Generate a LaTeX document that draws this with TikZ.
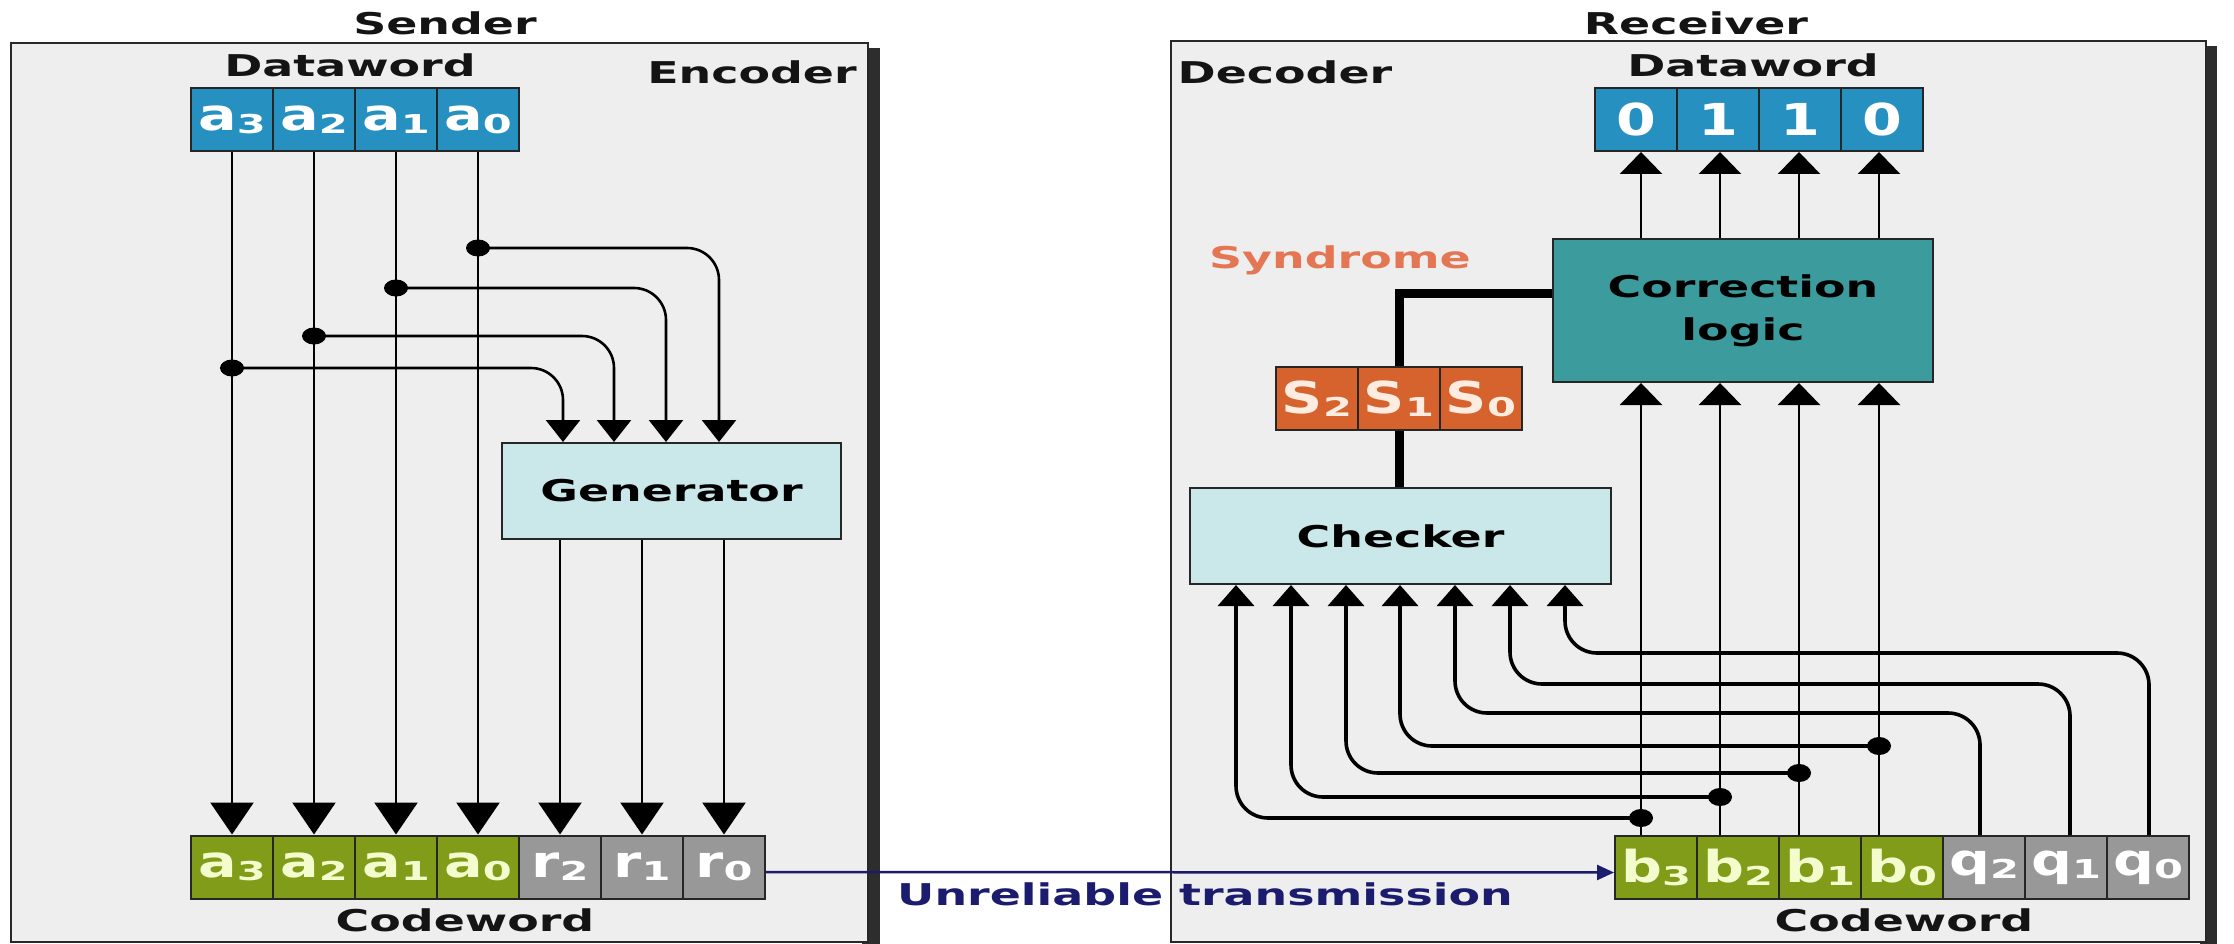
\documentclass[tikz,border=0pt]{standalone}
\usepackage{fontspec}
\usetikzlibrary{arrows.meta,calc}
\newfontfamily\labfont[FakeStretch=1.53]{DejaVu Sans}
\newfontfamily\cellfont[FakeStretch=1.3]{DejaVu Sans}
\newfontfamily\subfont[FakeStretch=1.6]{DejaVu Sans}
\definecolor{panelbg}{RGB}{238,238,238}
\definecolor{panelline}{RGB}{40,40,40}
\definecolor{shadowc}{RGB}{45,45,45}
\definecolor{dblue}{RGB}{38,145,193}
\definecolor{cgreen}{RGB}{128,156,24}
\definecolor{cgray}{RGB}{152,152,152}
\definecolor{sorange}{RGB}{214,98,46}
\definecolor{teal}{RGB}{60,155,157}
\definecolor{lcyan}{RGB}{202,231,233}
\definecolor{synd}{RGB}{228,118,84}
\definecolor{navy}{RGB}{28,28,110}
\definecolor{gtext}{RGB}{244,252,206}
\definecolor{otext}{RGB}{255,236,224}
\newcommand\cellsub[2]{#1\raisebox{-3pt}{\subfont\bfseries\fontsize{26}{26}\selectfont #2}}
\begin{document}
\begin{tikzpicture}[x=1pt,y=-1pt,
  lab/.style={font=\labfont\bfseries\fontsize{30}{43}\selectfont, inner sep=0pt, text=black!92},
  panel/.style={draw=panelline, line width=2pt, fill=panelbg, inner sep=0pt},
  cell/.style={draw=black!85, line width=2pt, minimum width=82pt, minimum height=63pt,
    inner sep=0pt, font=\cellfont\bfseries\fontsize{44}{44}\selectfont},
  bluecell/.style={cell, fill=dblue, text=white},
  greencell/.style={cell, fill=cgreen, text=gtext},
  graycell/.style={cell, fill=cgray, text=white},
  orangecell/.style={cell, fill=sorange, text=otext},
  block/.style={draw=black!85, line width=2pt, inner sep=0pt, align=center,
    font=\labfont\bfseries\fontsize{30}{43}\selectfont},
  wire/.style={draw=black, line width=2.6pt},
  cwire/.style={draw=black, line width=3.6pt},
  bus/.style={draw=black, line width=9pt, line join=miter},
  arrG/.style={-{Triangle[length=22pt,width=34pt]}},
  arrL/.style={-{Triangle[length=32pt,width=43pt]}},
  arrU/.style={-{Triangle[length=22pt,width=42pt]}},
  arrK/.style={-{Triangle[length=21pt,width=36pt]}},
  trans/.style={draw=navy, line width=2.5pt, -{Triangle[length=17pt,width=15pt]}},
  dotfill/.style={fill=black}
]
\useasboundingbox (0,0) rectangle (2234,944);
\fill[white] (0,0) rectangle (2234,944);

% ---------- panels ----------
\fill[shadowc] (862,48) rectangle (880,944);
\node[panel, minimum width=857pt, minimum height=899pt] (enc) at (439.5,492.5) {};
\fill[shadowc] (2200,46) rectangle (2217,944);
\node[panel, minimum width=1035pt, minimum height=901pt] (dec) at (1688.5,491.5) {};

% ---------- titles ----------
\node[lab] (sender) at (445,23) {Sender};
\node[lab] (receiver) at (1696,23) {Receiver};
\node[lab] (dwL) at (350,65) {Dataword};
\node[lab] (dwR) at (1753,65) {Dataword};
\node[lab] (encl) at (752,72) {Encoder};
\node[lab] (decl) at (1285,72) {Decoder};
\node[lab] (cwL) at (465,920) {Codeword};
\node[lab] (cwR) at (1904,920) {Codeword};
\node[lab, text=synd] (syn) at (1340,260) {Syndrome};
\node[lab, text=navy] (ut) at (1205,894) {Unreliable transmission};

% ---------- encoder ----------
\node[bluecell] (dA3) at (232,119.5) {\cellsub{a}{3}};
\node[bluecell] (dA2) at (314,119.5) {\cellsub{a}{2}};
\node[bluecell] (dA1) at (396,119.5) {\cellsub{a}{1}};
\node[bluecell] (dA0) at (478,119.5) {\cellsub{a}{0}};

\node[greencell] (cA3) at (232,867) {\cellsub{a}{3}};
\node[greencell] (cA2) at (314,867) {\cellsub{a}{2}};
\node[greencell] (cA1) at (396,867) {\cellsub{a}{1}};
\node[greencell] (cA0) at (478,867) {\cellsub{a}{0}};
\node[graycell] (cR2) at (560,867) {\cellsub{r}{2}};
\node[graycell] (cR1) at (642,867) {\cellsub{r}{1}};
\node[graycell] (cR0) at (724,867) {\cellsub{r}{0}};

\node[block, fill=lcyan, minimum width=339pt, minimum height=96pt] (gen) at (671.5,491) {Generator};

% generator input positions and branch points
\coordinate (gi3) at (563,0);
\coordinate (gi2) at (614,0);
\coordinate (gi1) at (666,0);
\coordinate (gi0) at (719,0);
\coordinate (j0) at (478,248);
\coordinate (j1) at (396,288);
\coordinate (j2) at (314,336);
\coordinate (j3) at (232,368);

\draw[wire, arrL] (dA3.south) -- (cA3.north);
\draw[wire, arrL] (dA2.south) -- (cA2.north);
\draw[wire, arrL] (dA1.south) -- (cA1.north);
\draw[wire, arrL] (dA0.south) -- (cA0.north);

\draw[wire, arrG, rounded corners=32pt] (j0) -- (j0 -| gi0) -- (gi0 |- gen.north);
\draw[wire, arrG, rounded corners=32pt] (j1) -- (j1 -| gi1) -- (gi1 |- gen.north);
\draw[wire, arrG, rounded corners=32pt] (j2) -- (j2 -| gi2) -- (gi2 |- gen.north);
\draw[wire, arrG, rounded corners=32pt] (j3) -- (j3 -| gi3) -- (gi3 |- gen.north);
\foreach \j in {j0,j1,j2,j3} \fill[dotfill] (\j) ellipse[x radius=12pt, y radius=8.5pt];

\draw[wire, arrL] (cR2.north |- gen.south) -- (cR2.north);
\draw[wire, arrL] (cR1.north |- gen.south) -- (cR1.north);
\draw[wire, arrL] (cR0.north |- gen.south) -- (cR0.north);

% ---------- decoder ----------
\node[bluecell] (dR3) at (1636,119.5) {0};
\node[bluecell] (dR2) at (1718,119.5) {1};
\node[bluecell] (dR1) at (1800,119.5) {1};
\node[bluecell] (dR0) at (1882,119.5) {0};

\node[greencell] (cB3) at (1656,867.5) {\cellsub{b}{3}};
\node[greencell] (cB2) at (1738,867.5) {\cellsub{b}{2}};
\node[greencell] (cB1) at (1820,867.5) {\cellsub{b}{1}};
\node[greencell] (cB0) at (1902,867.5) {\cellsub{b}{0}};
\node[graycell] (cQ2) at (1984,867.5) {\cellsub{q}{2}};
\node[graycell] (cQ1) at (2066,867.5) {\cellsub{q}{1}};
\node[graycell] (cQ0) at (2148,867.5) {\cellsub{q}{0}};

% ---------- transmission ----------
\draw[trans] ($(cR0.east)+(0,5)$) -- ($(cB3.west)+(0,5)$);

\node[block, fill=teal, minimum width=380pt, minimum height=143pt] (corr) at (1743,310.5) {Correction\\logic};
\node[block, fill=lcyan, minimum width=421pt, minimum height=96pt] (chk) at (1400.5,536) {Checker};

\node[orangecell] (S2) at (1317,398.5) {\cellsub{S}{2}};
\node[orangecell] (S1) at (1399,398.5) {\cellsub{S}{1}};
\node[orangecell] (S0) at (1481,398.5) {\cellsub{S}{0}};

% syndrome bus
\draw[bus] ($(corr.west)+(0,-17.5)$) -| (S1.north);
\draw[bus] (S1.south) -- (S1.south |- chk.north);

% data-bit lines
\coordinate (xb3) at (1641,0);
\coordinate (xb2) at (1720,0);
\coordinate (xb1) at (1799,0);
\coordinate (xb0) at (1879,0);
\coordinate (xq2) at (1980,0);
\coordinate (xq1) at (2070,0);
\coordinate (xq0) at (2149,0);

\draw[wire, arrU] (xb3 |- corr.north) -- (xb3 |- dR3.south);
\draw[wire, arrU] (xb2 |- corr.north) -- (xb2 |- dR2.south);
\draw[wire, arrU] (xb1 |- corr.north) -- (xb1 |- dR1.south);
\draw[wire, arrU] (xb0 |- corr.north) -- (xb0 |- dR0.south);

% checker inputs
\coordinate (ci0) at (1236,0);
\coordinate (ci1) at (1291,0);
\coordinate (ci2) at (1346,0);
\coordinate (ci3) at (1400,0);
\coordinate (ci4) at (1455,0);
\coordinate (ci5) at (1510,0);
\coordinate (ci6) at (1565,0);

\coordinate (k3) at (1641,818);
\coordinate (k2) at (1720,797);
\coordinate (k1) at (1799,773);
\coordinate (k0) at (1879,746);
\coordinate (hq2) at (0,713);
\coordinate (hq1) at (0,684);
\coordinate (hq0) at (0,653);

\draw[cwire, arrK, rounded corners=32pt] (k3) -- (k3 -| ci0) -- (ci0 |- chk.south);
\draw[cwire, arrK, rounded corners=32pt] (k2) -- (k2 -| ci1) -- (ci1 |- chk.south);
\draw[cwire, arrK, rounded corners=32pt] (k1) -- (k1 -| ci2) -- (ci2 |- chk.south);
\draw[cwire, arrK, rounded corners=32pt] (k0) -- (k0 -| ci3) -- (ci3 |- chk.south);
\draw[cwire, arrK, rounded corners=32pt] (xq2 |- cQ2.north) -- (xq2 |- hq2) -- (ci4 |- hq2) -- (ci4 |- chk.south);
\draw[cwire, arrK, rounded corners=32pt] (xq1 |- cQ1.north) -- (xq1 |- hq1) -- (ci5 |- hq1) -- (ci5 |- chk.south);
\draw[cwire, arrK, rounded corners=32pt] (xq0 |- cQ0.north) -- (xq0 |- hq0) -- (ci6 |- hq0) -- (ci6 |- chk.south);

\draw[wire, arrU] (xb3 |- cB3.north) -- (xb3 |- corr.south);
\draw[wire, arrU] (xb2 |- cB2.north) -- (xb2 |- corr.south);
\draw[wire, arrU] (xb1 |- cB1.north) -- (xb1 |- corr.south);
\draw[wire, arrU] (xb0 |- cB0.north) -- (xb0 |- corr.south);
\foreach \k in {k0,k1,k2,k3} \fill[dotfill] (\k) ellipse[x radius=12pt, y radius=9pt];
\end{tikzpicture}
\end{document}
